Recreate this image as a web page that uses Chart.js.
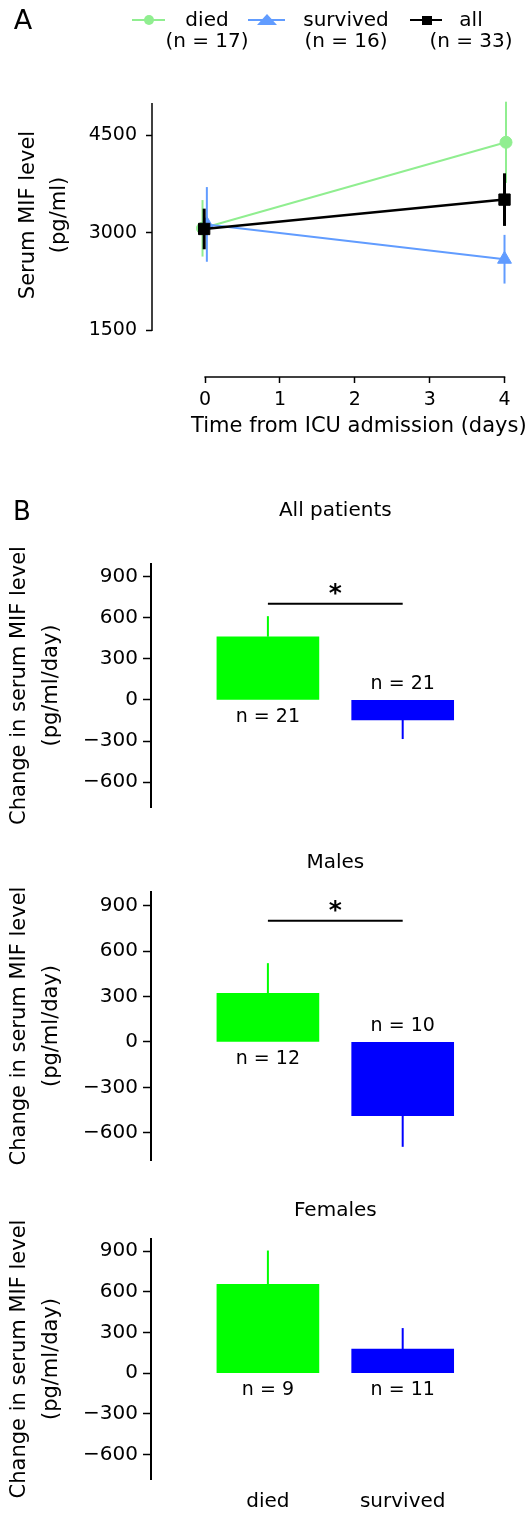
<!DOCTYPE html>
<html><head><meta charset="utf-8">
<script src="https://cdn.jsdelivr.net/npm/chart.js@4.4.0/dist/chart.umd.min.js"></script>
<style>
html,body{margin:0;padding:0;background:#fff;width:527px;height:1513px;overflow:hidden;position:relative;}
canvas{position:absolute;left:0;}
</style></head><body>
<canvas id="cA" width="527" height="490" style="top:0px"></canvas>
<canvas id="cB1" width="527" height="340" style="top:490px"></canvas>
<canvas id="cB2" width="527" height="350" style="top:830px"></canvas>
<canvas id="cB3" width="527" height="333" style="top:1180px"></canvas>
<script>
// ---------- Panel A data ----------
const days = [0, 4];
const diedMean = [3070, 4395];
const diedErr = [435, 625];
const survivedMean = [3130, 2594];
const survivedErr = [575, 375];
const allMean = [3060, 3512];
const allErr = [313, 405];
const diedJitter = [-0.035, 0.02];
const survivedJitter = [0.023, 0];
const allJitter = [-0.013, 0];
const yTicksA = [1500, 3000, 4500];
const xTicksA = [0, 1, 2, 3, 4];
const legendLabels = ['died', 'survived', 'all'];
const legendN = ['(n = 17)', '(n = 16)', '(n = 33)'];

// ---------- Panel B data ----------
const groups = ['died', 'survived'];
const allPatientsMean = [460, -145];
const allPatientsErr = [150, 140];
const allPatientsN = [21, 21];
const malesMean = [320, -488];
const malesErr = [200, 205];
const malesN = [12, 10];
const femalesMean = [655, 178];
const femalesErr = [250, 155];
const femalesN = [9, 11];
const sigBarY = [700, 800, null];
const yTicksB = [-600, -300, 0, 300, 600, 900];
const panelTitles = ['All patients', 'Males', 'Females'];

const FONT = "'DejaVu Sans'";
Chart.defaults.font.family = FONT;
Chart.defaults.color = '#000';

function txt(ctx, s, x, y, size, o) {
  o = o || {};
  ctx.save();
  ctx.font = (o.weight || 'normal') + ' ' + size + 'px ' + FONT;
  ctx.fillStyle = o.color || '#000';
  ctx.textAlign = o.align || 'center';
  ctx.textBaseline = 'middle';
  if (o.rotate) { ctx.translate(x, y); ctx.rotate(o.rotate); ctx.fillText(s, 0, 0); }
  else ctx.fillText(s, x, y);
  ctx.restore();
}
function line(ctx, x1, y1, x2, y2, color, w) {
  ctx.save(); ctx.strokeStyle = color; ctx.lineWidth = w; ctx.lineCap = 'butt';
  ctx.beginPath(); ctx.moveTo(x1, y1); ctx.lineTo(x2, y2); ctx.stroke(); ctx.restore();
}
const fmt = v => (v < 0 ? '\u2212' + Math.abs(v) : String(v));

// ---------- Panel A ----------
const seriesA = [
  {label: 'died', mean: diedMean, err: diedErr, jit: diedJitter, color: '#90EE90', style: 'circle', r: 6, lw: 2, elw: 2, order: 3},
  {label: 'survived', mean: survivedMean, err: survivedErr, jit: survivedJitter, color: '#619CFF', style: 'triangle', r: 8, lw: 2, elw: 2, order: 2},
  {label: 'all', mean: allMean, err: allErr, jit: allJitter, color: '#000000', style: 'rect', r: 8, lw: 2.5, elw: 3, order: 1}
];

const pluginA = {
  id: 'pA',
  beforeDatasetDraw(chart, args) {
    const s = seriesA[args.index];
    const xs = chart.scales.x, ys = chart.scales.y, ctx = chart.ctx;
    days.forEach((d, i) => {
      const x = xs.getPixelForValue(d + s.jit[i]);
      line(ctx, x, ys.getPixelForValue(s.mean[i] - s.err[i]), x, ys.getPixelForValue(s.mean[i] + s.err[i]), s.color, s.elw);
    });
  },
  afterDraw(chart) {
    const ctx = chart.ctx, xs = chart.scales.x, ys = chart.scales.y, ca = chart.chartArea;
    line(ctx, ca.left, ys.getPixelForValue(yTicksA[0]) + 0.75, ca.left, ca.top, '#000', 1.5);
    line(ctx, xs.getPixelForValue(xTicksA[0]) - 0.75, ca.bottom, xs.getPixelForValue(xTicksA[xTicksA.length - 1]) + 0.75, ca.bottom, '#000', 1.5);
    txt(ctx, 'A', 23, 22, 27);
    txt(ctx, 'Serum MIF level', 29, 215, 21, {rotate: -Math.PI / 2});
    txt(ctx, '(pg/ml)', 60, 215, 21, {rotate: -Math.PI / 2});
    txt(ctx, 'Time from ICU admission (days)', xs.getPixelForValue(2) + 4, 427, 21);
    const lx = [[132, 165, 149, 207], [248, 285, 267, 346], [410, 442, 427, 471]];
    seriesA.forEach((s, i) => {
      const [a, b, m, tx] = lx[i];
      line(ctx, a, 20, b, 20, s.color, 2);
      ctx.save(); ctx.fillStyle = s.color; ctx.beginPath();
      if (s.style === 'circle') { ctx.arc(m, 20, 5, 0, Math.PI * 2); }
      else if (s.style === 'triangle') { ctx.moveTo(m, 14); ctx.lineTo(m + 10, 25); ctx.lineTo(m - 10, 25); ctx.closePath(); }
      else { ctx.rect(m - 5, 16, 10, 9); }
      ctx.fill(); ctx.restore();
      txt(ctx, legendLabels[i], tx, 21, 20);
      txt(ctx, legendN[i], tx, 42, 20);
    });
  }
};

new Chart(document.getElementById('cA'), {
  type: 'line',
  data: {
    datasets: seriesA.map(s => ({
      label: s.label,
      data: days.map((d, i) => ({x: d + s.jit[i], y: s.mean[i]})),
      borderColor: s.color, backgroundColor: s.color, borderWidth: s.lw,
      pointStyle: s.style, pointRadius: s.r, pointBorderWidth: 1,
      pointBackgroundColor: s.color, pointBorderColor: s.color,
      order: s.order, clip: false, tension: 0, fill: false
    }))
  },
  options: {
    responsive: false, animation: false, devicePixelRatio: 1, events: [],
    layout: {padding: {top: 103, right: 15, left: 0, bottom: 0}},
    plugins: {legend: {display: false}, tooltip: {enabled: false}},
    scales: {
      x: {
        type: 'linear', min: -0.71, max: 4.1,
        afterBuildTicks(s) { s.ticks = xTicksA.map(v => ({value: v})); },
        afterFit(s) { s.height = 113; },
        border: {display: false},
        grid: {drawOnChartArea: false, drawTicks: true, tickLength: 6, tickColor: '#000', tickWidth: 1.5},
        ticks: {font: {size: 19}, color: '#000', padding: 6, maxRotation: 0, callback: fmt}
      },
      y: {
        type: 'linear', min: 780, max: 5000,
        afterBuildTicks(s) { s.ticks = yTicksA.map(v => ({value: v})); },
        afterFit(s) { s.width = 152; },
        border: {display: false},
        grid: {drawOnChartArea: false, drawTicks: true, tickLength: 6, tickColor: '#000', tickWidth: 1.5},
        ticks: {font: {size: 19}, color: '#000', padding: 9, callback: fmt}
      }
    }
  },
  plugins: [pluginA]
});

// ---------- Panel B ----------
const panelsB = [
  {id: 'cB1', mean: allPatientsMean, err: allPatientsErr, n: allPatientsN, sig: sigBarY[0], title: panelTitles[0], titleY: 21, letter: true, xlabels: false, pad: {top: 74, bottom: 23}},
  {id: 'cB2', mean: malesMean, err: malesErr, n: malesN, sig: sigBarY[1], title: panelTitles[1], titleY: 33, letter: false, xlabels: false, pad: {top: 62, bottom: 20}},
  {id: 'cB3', mean: femalesMean, err: femalesErr, n: femalesN, sig: sigBarY[2], title: panelTitles[2], titleY: 31, letter: false, xlabels: true, pad: {top: 59, bottom: 34}}
];
const barColors = ['#00FF00', '#0000FF'];

panelsB.forEach(p => {
  const plug = {
    id: 'pB',
    afterDraw(chart) {
      const ctx = chart.ctx, xs = chart.scales.x, ys = chart.scales.y, ca = chart.chartArea;
      const y0 = ys.getPixelForValue(0);
      p.mean.forEach((m, i) => {
        const x = xs.getPixelForValue(i + 1);
        const e = m >= 0 ? m + p.err[i] : m - p.err[i];
        line(ctx, x, ys.getPixelForValue(m), x, ys.getPixelForValue(e), barColors[i], 2);
        txt(ctx, 'n = ' + p.n[i], x, m >= 0 ? y0 + 17 : y0 - 16, 19);
      });
      if (p.sig !== null) {
        const ys2 = ys.getPixelForValue(p.sig);
        line(ctx, xs.getPixelForValue(1), ys2, xs.getPixelForValue(2), ys2, '#000', 2);
        txt(ctx, '*', xs.getPixelForValue(1.5), ys2 - 9, 25, {weight: 'bold'});
      }
      txt(ctx, p.title, xs.getPixelForValue(1.5), p.titleY, 20);
      if (p.letter) txt(ctx, 'B', 22, 23, 26);
      const cy = (ca.top + ca.bottom) / 2;
      txt(ctx, 'Change in serum MIF level', 20, cy, 21, {rotate: -Math.PI / 2});
      txt(ctx, '(pg/ml/day)', 52, cy, 21, {rotate: -Math.PI / 2});
      if (p.xlabels) {
        groups.forEach((g, i) => txt(ctx, g, xs.getPixelForValue(i + 1), 322, 20));
      }
    }
  };
  new Chart(document.getElementById(p.id), {
    type: 'bar',
    data: {
      datasets: [{
        data: groups.map((g, i) => ({x: i + 1, y: p.mean[i]})),
        backgroundColor: barColors, borderWidth: 0, barThickness: 102
      }]
    },
    options: {
      responsive: false, animation: false, devicePixelRatio: 1, events: [],
      layout: {padding: {top: p.pad.top, bottom: p.pad.bottom, left: 0, right: 7}},
      plugins: {legend: {display: false}, tooltip: {enabled: false}},
      scales: {
        x: {type: 'linear', min: 0.4065, max: 2.5965, display: false},
        y: {
          type: 'linear', min: -780, max: 990,
          afterBuildTicks(s) { s.ticks = yTicksB.map(v => ({value: v})); },
          afterFit(s) { s.width = 151; },
          border: {display: true, color: '#000', width: 2},
          grid: {drawOnChartArea: false, drawTicks: true, tickLength: 8, tickColor: '#000', tickWidth: 1.5},
          ticks: {font: {size: 20}, color: '#000', padding: 5, callback: fmt}
        }
      }
    },
    plugins: [plug]
  });
});
</script>
</body></html>
